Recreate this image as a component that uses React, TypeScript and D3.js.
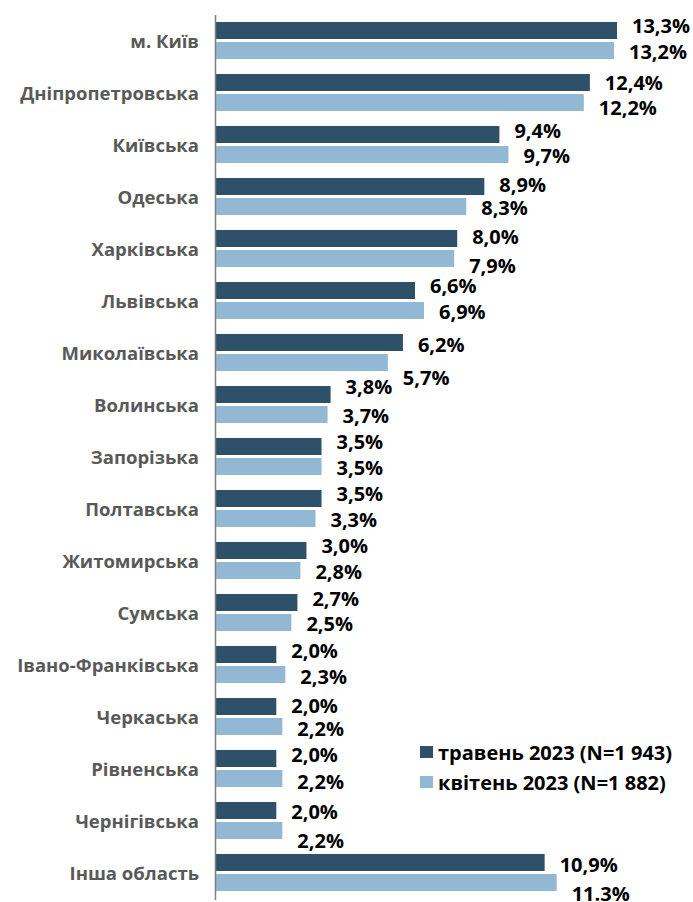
import React from "react";
import * as d3 from "d3";

const categories = [
  "м. Київ",
  "Дніпропетровська",
  "Київська",
  "Одеська",
  "Харківська",
  "Львівська",
  "Миколаївська",
  "Волинська",
  "Запорізька",
  "Полтавська",
  "Житомирська",
  "Сумська",
  "Івано-Франківська",
  "Черкаська",
  "Рівненська",
  "Чернігівська",
  "Інша область",
];

const mayValues = [13.3, 12.4, 9.4, 8.9, 8.0, 6.6, 6.2, 3.8, 3.5, 3.5, 3.0, 2.7, 2.0, 2.0, 2.0, 2.0, 10.9];
const aprValues = [13.2, 12.2, 9.7, 8.3, 7.9, 6.9, 5.7, 3.7, 3.5, 3.3, 2.8, 2.5, 2.3, 2.2, 2.2, 2.2, 11.3];

const mayLabels = ["13,3%", "12,4%", "9,4%", "8,9%", "8,0%", "6,6%", "6,2%", "3,8%", "3,5%", "3,5%", "3,0%", "2,7%", "2,0%", "2,0%", "2,0%", "2,0%", "10,9%"];
const aprLabels = ["13,2%", "12,2%", "9,7%", "8,3%", "7,9%", "6,9%", "5,7%", "3,7%", "3,5%", "3,3%", "2,8%", "2,5%", "2,3%", "2,2%", "2,2%", "2,2%", "11.3%"];

const seriesNames = ["травень 2023 (N=1 943)", "квітень 2023 (N=1 882)"];

// layout nudges of the data labels (as placed in the original)
const mayLabelDy = [-4.5, 0, -3.5, -1.5, -1.5, -5, 2.5, -7.5, -4.5, -4.5, -5, -4, -3.5, -0.5, -4, 1.5, 2];
const aprLabelDy = [1, 5.5, 1.5, 1, 7.5, 1, 15.5, 1.5, 1.5, 1.5, 1.5, 1.5, 2.5, 2.5, 3, 10, 11];

const W = 693;
const H = 902;
const COLORS = ["#2e5069", "#93b8d3"];

export default function App() {
  const x = d3.scaleLinear().domain([0, 1]).range([216, 216 + 30.15]);
  const y = d3.scaleBand<string>().domain(categories).range([14.5, 898.5]).paddingInner(0).paddingOuter(0);
  const inner = d3.scaleBand<string>().domain(["may", "apr"]).range([7.5, 44.5]).paddingInner(0.15).paddingOuter(0);
  const bh = inner.bandwidth();
  const font = "'Open Sans', sans-serif";

  return (
    <svg width={W} height={H} style={{ position: "absolute", left: 0, top: 0 }} fontFamily={font}>
      <rect width={W} height={H} fill="#fff" />
      {categories.map((c, i) => {
        const y0 = y(c)!;
        const yM = y0 + inner("may")!;
        const yA = y0 + inner("apr")!;
        return (
          <g key={c}>
            <text
              x={199}
              y={y0 + y.bandwidth() / 2 + 1}
              dy="0.35em"
              textAnchor="end"
              fontSize={18.5}
              fontWeight={700}
              fill="#595959"
            >
              {c}
            </text>
            <rect x={x(0)} y={yM} width={x(mayValues[i]) - x(0)} height={bh} fill={COLORS[0]} />
            <rect x={x(0)} y={yA} width={x(aprValues[i]) - x(0)} height={bh} fill={COLORS[1]} />
            <text
              x={x(mayValues[i]) + 15}
              y={yM + bh / 2 + mayLabelDy[i]}
              dy="0.36em"
              fontSize={20}
              fontWeight={700}
              fill="#000"
            >
              {mayLabels[i]}
            </text>
            <text
              x={x(aprValues[i]) + 15}
              y={yA + bh / 2 + aprLabelDy[i]}
              dy="0.36em"
              fontSize={20}
              fontWeight={700}
              fill="#000"
            >
              {aprLabels[i]}
            </text>
          </g>
        );
      })}
      <line x1={215.5} x2={215.5} y1={15} y2={900} stroke="#7f7f7f" strokeWidth={1.5} />
      {seriesNames.map((s, i) => (
        <g key={s} transform={`translate(420, ${746 + i * 30})`}>
          <rect x={0} y={0} width={13} height={12} fill={COLORS[i]} />
          <text x={18} y={6.5} dy="0.35em" fontSize={20} fontWeight={700} fill="#000">
            {s}
          </text>
        </g>
      ))}
    </svg>
  );
}
